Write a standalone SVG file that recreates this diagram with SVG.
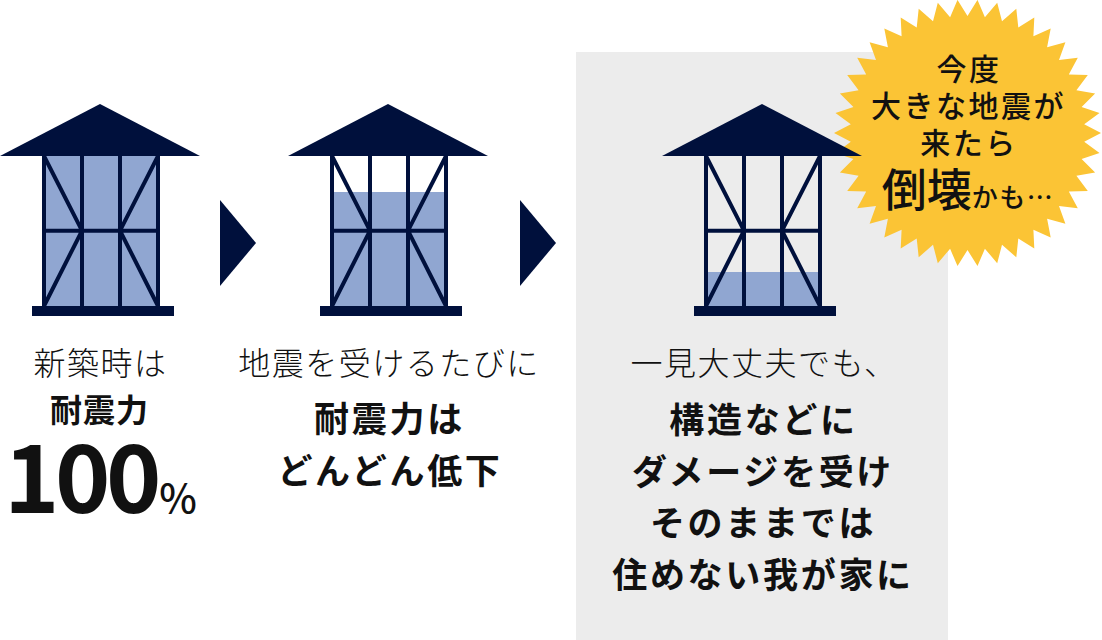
<svg xmlns="http://www.w3.org/2000/svg" width="1102" height="640" viewBox="0 0 1102 640">
<style>
text{font-family:"Noto Sans CJK JP","Noto Sans",sans-serif;text-anchor:middle;fill:#111}
.l{font-size:32px;font-weight:300;letter-spacing:1.500px}
.b{font-size:35px;font-weight:700;letter-spacing:2.700px}
.s{font-size:30px;font-weight:500;letter-spacing:2.500px}
.navy{fill:#00103c}
.fill{fill:#90a6d1}
.f{stroke:#00103c;stroke-width:4;fill:none}
</style>
<defs>
<g id="house">
<polygon class="navy" points="0,156 100,104 200,156"/>
<path class="f" d="M44,156V306M82,156V306M120,156V306M158,156V306M44,230.700H158M44,156L82,230.700L44,306M158,156L120,230.700L158,306"/>
<rect class="navy" x="32" y="306" width="142" height="10"/>
</g>
</defs>
<rect x="576" y="52" width="372" height="588" fill="#ececec"/>
<g id="burst"><polygon fill="#fbc435" transform="translate(967.5,133)" points="133.5,0 116.7,8.7 132,19.9 114.1,26 127.6,39.4 108.9,42.7 120.3,57.9 101.3,58.5 110.3,75.2 91.5,72.9 97.9,90.8 79.6,85.8 83.2,104.4 65.9,96.7 66.8,115.6 50.8,105.4 48.8,124.3 34.5,111.8 29.7,130.2 17.4,115.7 10,133.1 0,117 -10,133.1 -17.4,115.7 -29.7,130.2 -34.5,111.8 -48.8,124.3 -50.8,105.4 -66.8,115.6 -65.9,96.7 -83.2,104.4 -79.6,85.8 -97.9,90.8 -91.5,72.9 -110.3,75.2 -101.3,58.5 -120.3,57.9 -108.9,42.7 -127.6,39.4 -114.1,26 -132,19.9 -116.7,8.7 -133.5,0 -116.7,-8.7 -132,-19.9 -114.1,-26 -127.6,-39.4 -108.9,-42.7 -120.3,-57.9 -101.3,-58.5 -110.3,-75.2 -91.5,-72.9 -97.9,-90.8 -79.6,-85.8 -83.2,-104.4 -65.9,-96.7 -66.8,-115.6 -50.8,-105.4 -48.8,-124.3 -34.5,-111.8 -29.7,-130.2 -17.4,-115.7 -10,-133.1 0,-117 10,-133.1 17.4,-115.7 29.7,-130.2 34.5,-111.8 48.8,-124.3 50.8,-105.4 66.8,-115.6 65.9,-96.7 83.2,-104.4 79.6,-85.8 97.9,-90.8 91.5,-72.9 110.3,-75.2 101.3,-58.5 120.3,-57.9 108.9,-42.7 127.6,-39.4 114.1,-26 132,-19.9 116.7,-8.7"/>
<text class="s" x="969" y="80">今度</text><text class="s" x="968.500" y="117">大きな地震が</text><text class="s" x="969" y="154">来たら</text><text x="968" y="207" style="font-size:45px;font-weight:500;letter-spacing:0"><tspan>倒壊</tspan><tspan style="font-size:26px;letter-spacing:1.500px">かも…</tspan></text></g>
<g id="house1"><rect class="fill" x="44" y="156" width="114" height="150"/><use href="#house"/><text class="l" x="100.500" y="375">新築時は</text><text class="b" x="99.500" y="422" style="font-size:32px;letter-spacing:1px">耐震力</text><text x="4" y="513" style="text-anchor:start;font-size:94px;font-weight:700;letter-spacing:-4.500px">100</text><text x="178" y="513" style="font-size:40px;font-weight:500">%</text></g>
<g id="house2"><rect class="fill" x="332" y="192" width="114" height="114"/><use href="#house" x="288"/><text class="l" x="389" y="375">地震を受けるたびに</text><text class="b" x="389.500" y="432">耐震力は</text><text class="b" x="390" y="484">どんどん低下</text></g>
<g id="house3"><rect class="fill" x="706" y="272" width="114" height="34"/><use href="#house" x="662"/><text class="l" x="764" y="375">一見大丈夫でも、</text><text class="b" x="763.500" y="433">構造などに</text><text class="b" x="763" y="485">ダメージを受け</text><text class="b" x="763" y="536">そのままでは</text><text class="b" x="763" y="588">住めない我が家に</text></g>
<g id="connectors"><polygon class="navy" points="220,200 256,243 220,286"/><polygon class="navy" points="520,200 556,243 520,286"/></g>
</svg>
